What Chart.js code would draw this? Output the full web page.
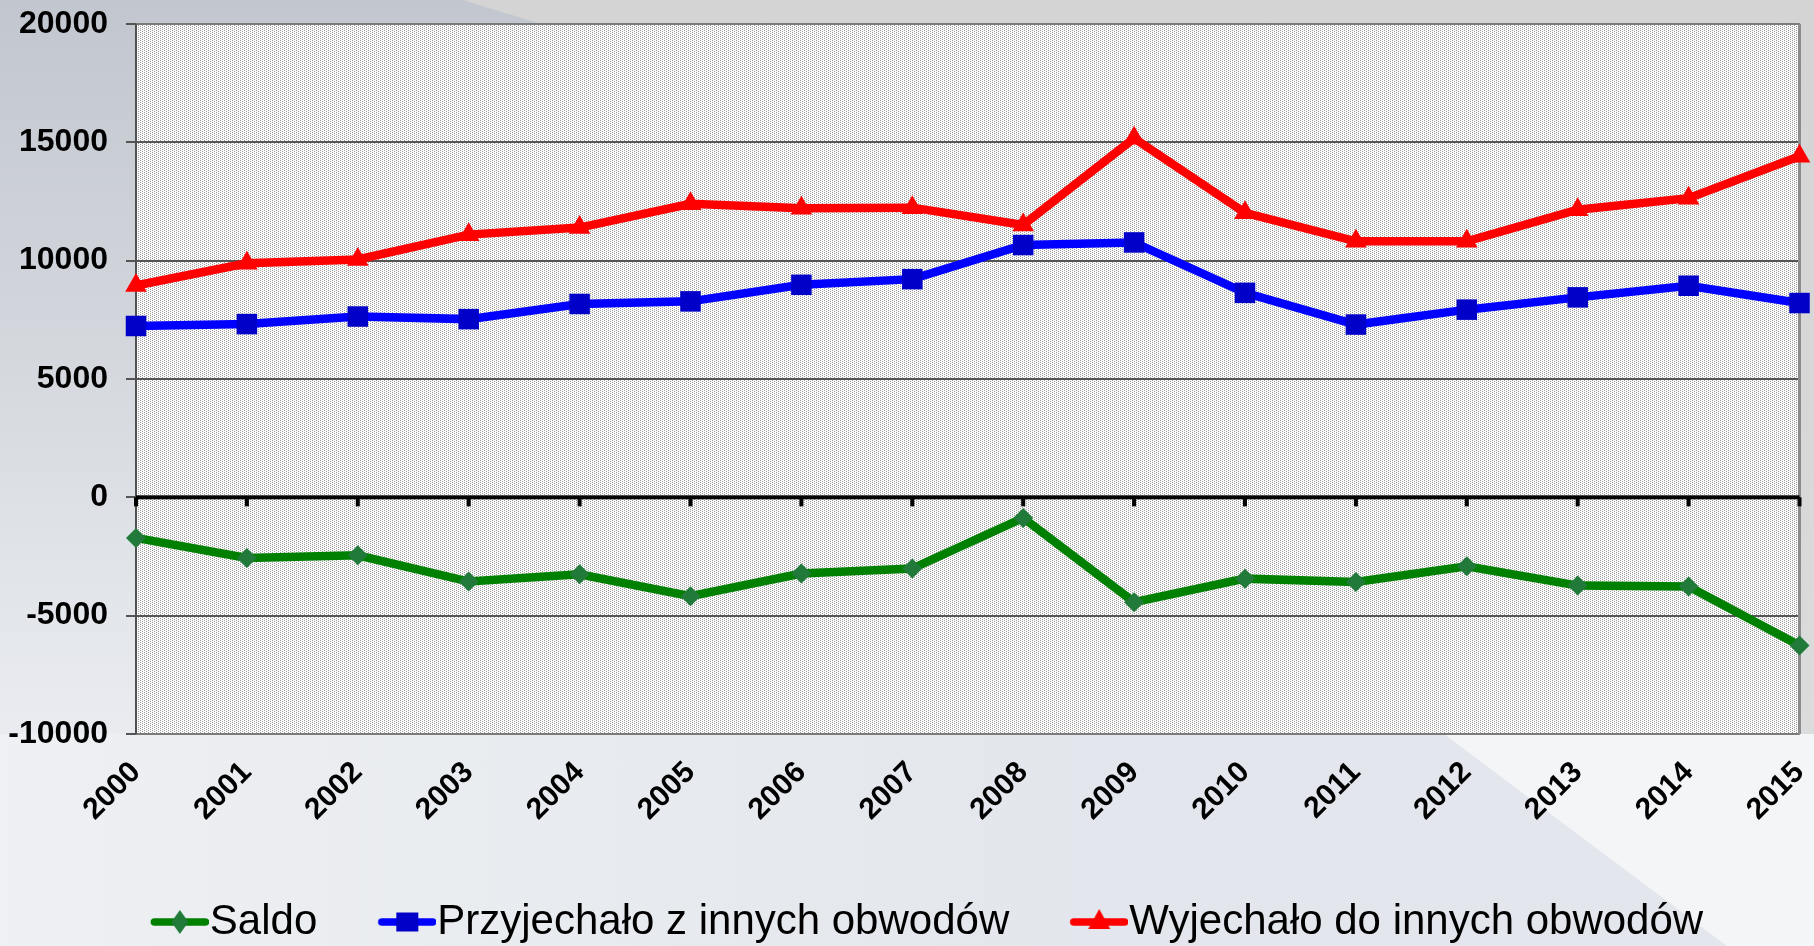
<!DOCTYPE html>
<html>
<head>
<meta charset="utf-8">
<script src="https://cdn.jsdelivr.net/npm/chart.js@4.4.0/dist/chart.umd.min.js"></script>
<style>
html,body{margin:0;padding:0;width:1814px;height:946px;overflow:hidden;}
body{position:relative;background:linear-gradient(180deg,#c2c6ce 0%,#d1d5db 32%,#e2e5ea 62%,#eceef2 85%,#f1f2f5 100%);}
.bg{position:absolute;left:0;top:0;width:1814px;height:946px;}
#gray{background:linear-gradient(180deg,#d4d4d4 0%,#d8d8d8 50%,#dedfe1 100%);clip-path:polygon(463px 0,1814px 0,1814px 734px,1790px 734px,1790px 24px,541px 24px);}
#bot{top:734px;height:212px;background:linear-gradient(90deg,#eef0f3 0%,#e8ebef 30%,#e3e7ed 60%,#e3e7ed 100%);}
#botw{background:#f4f5f7;clip-path:polygon(1444px 734px,1814px 734px,1814px 946px,1727px 946px);}
#c{position:absolute;left:0;top:0;}
</style>
</head>
<body>
<div class="bg" id="gray"></div>
<div class="bg" id="bot"></div>
<div class="bg" id="botw"></div>
<canvas id="c" width="1814" height="946"></canvas>
<script>
const years = ['2000','2001','2002','2003','2004','2005','2006','2007','2008','2009','2010','2011','2012','2013','2014','2015'];
const saldo = [-1715,-2560,-2450,-3560,-3250,-4180,-3220,-3010,-870,-4430,-3435,-3575,-2910,-3730,-3770,-6260];
const przyjechalo = [7240,7320,7640,7530,8170,8280,8980,9220,10660,10770,8640,7300,7930,8450,8940,8210];
const wyjechalo = [8950,9890,10050,11100,11400,12400,12210,12240,11510,15170,12020,10820,10820,12150,12640,14410];
const yTicks = [-10000,-5000,0,5000,10000,15000,20000];
const seriesNames = ['Saldo','Przyjechało z innych obwodów','Wyjechało do innych obwodów'];

const FONT = "'Liberation Sans', Arial, sans-serif";

function makePattern() {
  const c = document.createElement('canvas');
  c.width = 4; c.height = 2;
  const g = c.getContext('2d');
  g.fillStyle = '#fbfbfb'; g.fillRect(0,0,4,2);
  g.fillStyle = '#9a9a9a';
  g.fillRect(0,0,1,1);
  g.fillRect(2,1,1,1);
  return c;
}

function legendImg(lineColor, markColor, kind) {
  const W = 119, H = 34;
  const c = document.createElement('canvas');
  c.width = W; c.height = H;
  const g = c.getContext('2d');
  const x1 = W - 58, x2 = W, cy = H / 2;
  g.strokeStyle = lineColor; g.lineWidth = 7.5; g.lineCap = 'round';
  g.beginPath(); g.moveTo(x1 + 3.5, cy); g.lineTo(x2 - 3.5, cy); g.stroke();
  const mx = (x1 + x2) / 2;
  g.fillStyle = markColor;
  g.beginPath();
  if (kind === 'diamond') {
    g.moveTo(mx, cy - 12); g.lineTo(mx + 8.5, cy); g.lineTo(mx, cy + 12); g.lineTo(mx - 8.5, cy);
  } else if (kind === 'square') {
    g.rect(mx - 11, cy - 9.5, 22, 19);
  } else {
    g.moveTo(mx, cy - 13); g.lineTo(mx + 11, cy + 7); g.lineTo(mx - 11, cy + 7);
  }
  g.closePath(); g.fill();
  return c;
}

const legendImgs = [
  legendImg('#008000', '#217a3a', 'diamond'),
  legendImg('#0000ff', '#0000c8', 'square'),
  legendImg('#ff0000', '#ff0000', 'triangle')
];

const plotDecor = {
  id: 'plotDecor',
  beforeDraw(chart) {
    const {ctx, chartArea: a} = chart;
    ctx.save();
    ctx.fillStyle = ctx.createPattern(makePattern(), 'repeat');
    ctx.fillRect(a.left, a.top, a.right - a.left, a.bottom - a.top);
    ctx.restore();
  },
  beforeDatasetsDraw(chart) {
    const {ctx, chartArea: a, scales} = chart;
    const y0 = scales.y.getPixelForValue(0);
    ctx.save();
    ctx.strokeStyle = '#7a7a7a';
    ctx.lineWidth = 2;
    ctx.beginPath();
    ctx.moveTo(a.left, a.top); ctx.lineTo(a.right, a.top);
    ctx.moveTo(a.left, a.bottom); ctx.lineTo(a.right, a.bottom);
    ctx.stroke();
    ctx.strokeStyle = '#8c8c8c';
    ctx.lineWidth = 3;
    ctx.beginPath(); ctx.moveTo(a.right, a.top); ctx.lineTo(a.right, a.bottom); ctx.stroke();
    ctx.strokeStyle = '#505050';
    ctx.lineWidth = 2;
    ctx.beginPath(); ctx.moveTo(a.left, a.top); ctx.lineTo(a.left, a.bottom); ctx.stroke();
    ctx.fillStyle = '#000';
    ctx.fillRect(a.left, y0 - 2, a.right - a.left, 4);
    years.forEach((_, i) => {
      const x = scales.x.getPixelForTick(i);
      ctx.fillRect(x - 2, y0, 4, 9);
    });
    ctx.restore();
  }
};

new Chart(document.getElementById('c'), {
  type: 'line',
  data: {
    labels: years,
    datasets: [
      {label: seriesNames[0], data: saldo, borderColor: '#008000', borderWidth: 8.5,
       pointStyle: 'rectRot', pointRadius: 10, pointBackgroundColor: '#217a3a', pointBorderColor: '#217a3a', pointBorderWidth: 0, clip: false},
      {label: seriesNames[1], data: przyjechalo, borderColor: '#0000ff', borderWidth: 8.5,
       pointStyle: 'rect', pointRadius: 14.5, pointBackgroundColor: '#0000c8', pointBorderColor: '#0000c8', pointBorderWidth: 0, clip: false},
      {label: seriesNames[2], data: wyjechalo, borderColor: '#ff0000', borderWidth: 8.5,
       pointStyle: 'triangle', pointRadius: 12.5, pointBackgroundColor: '#ff0000', pointBorderColor: '#ff0000', pointBorderWidth: 0, clip: false}
    ]
  },
  options: {
    responsive: false,
    animation: false,
    devicePixelRatio: 1,
    layout: {padding: {left: 6, right: 7, top: 24, bottom: -7}},
    elements: {line: {tension: 0}},
    plugins: {
      tooltip: {enabled: false},
      legend: {
        position: 'bottom',
        labels: {
          usePointStyle: true,
          pointStyleWidth: 79,
          padding: 20,
          color: '#000',
          font: {size: 42, family: FONT},
          generateLabels(chart) {
            const items = Chart.defaults.plugins.legend.labels.generateLabels(chart);
            items.forEach((it, i) => { it.pointStyle = legendImgs[i]; });
            return items;
          }
        }
      }
    },
    scales: {
      x: {
        grid: {display: false, drawTicks: false},
        border: {display: false},
        ticks: {autoSkip: false, minRotation: 45, maxRotation: 45, padding: 21, color: '#000',
                font: {size: 30, weight: 'bold', family: FONT}},
        afterFit(s) { s.height = 147; s.paddingLeft = 0; s.paddingRight = 0; }
      },
      y: {
        min: -10000, max: 20000,
        afterBuildTicks(s) { s.ticks = yTicks.map(v => ({value: v})); },
        grid: {color: '#555555', lineWidth: 2, tickLength: 10, drawTicks: true},
        border: {display: false},
        ticks: {padding: 18, color: '#000', font: {size: 32, weight: 'bold', family: FONT},
                callback: v => String(v)},
        afterFit(s) { s.width = 130; s.paddingTop = 0; s.paddingBottom = 0; }
      }
    }
  },
  plugins: [plotDecor]
});
</script>
</body>
</html>
